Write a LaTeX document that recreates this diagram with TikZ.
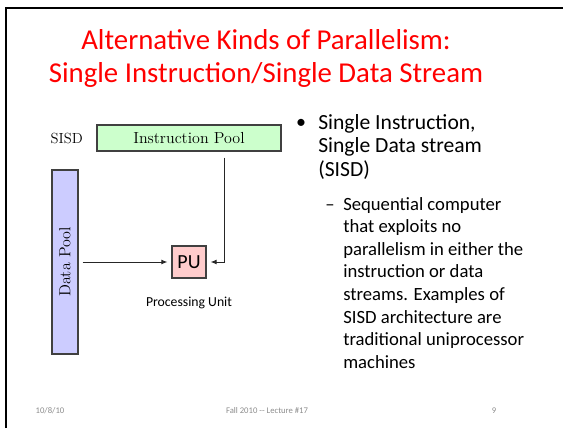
\documentclass[tikz,border=0pt]{standalone}
\usepackage{fontspec}
\newfontfamily\calibri{Carlito}
\usetikzlibrary{arrows.meta}
\definecolor{slidered}{RGB}{255,0,0}
\definecolor{poolgreen}{RGB}{204,255,204}
\definecolor{poolblue}{RGB}{204,204,255}
\definecolor{pupink}{RGB}{255,204,204}
\definecolor{edge}{RGB}{64,64,64}
\definecolor{footgray}{RGB}{140,140,140}
\tikzset{
  >={Latex[length=1.6mm,width=1.3mm]},
  pool/.style={draw=edge,fill=#1,line width=0.8pt,inner sep=0pt,
    font=\fontsize{12}{14}\selectfont},
  pool/.default=poolgreen,
  flow/.style={->,line width=0.7pt,draw=black!85},
  title/.style={anchor=base,inner sep=0pt,text=slidered,
    font=\calibri\fontsize{21.6}{26}\selectfont},
  body/.style={anchor=base west,inner sep=0pt,font=\calibri\fontsize{16.2}{19}\selectfont},
  subbody/.style={anchor=base west,inner sep=0pt,font=\calibri\fontsize{14}{17}\selectfont},
  foot/.style={anchor=base,inner sep=0pt,text=footgray,font=\calibri\fontsize{6.5}{8}\selectfont},
}

\begin{document}
\begin{tikzpicture}[x=0.75pt,y=-0.75pt]
  \useasboundingbox (0,0) rectangle (563,428);
  % slide frame
  \draw[line width=2pt] (6,428) -- (6,8) -- (563,8);
  % heading
  \node[title] (title1) at (266,50) {Alternative Kinds of Parallelism:};
  \node[title] (title2) at (266,83) {Single Instruction/Single Data Stream};
  % SISD diagram
  \node[pool=poolgreen,minimum width=138pt,minimum height=19.5pt] (instr) at (189,138) {Instruction Pool};
  \node[anchor=east,inner sep=0pt,font=\fontsize{11}{13}\selectfont] (sisd) at (83,138) {SISD};
  \node[pool=poolblue,minimum width=138pt,minimum height=19.5pt,rotate=90] (data) at (65,262) {Data Pool};
  \node[pool=pupink,font=\calibri\fontsize{15}{18}\selectfont,
    minimum width=25.5pt,minimum height=24pt] (pu) at (189,262) {PU};
  \node[inner sep=0pt,font=\calibri\fontsize{10.3}{12}\selectfont] (pulabel) at (189,303) {Processing Unit};
  \coordinate (itap) at ([xshift=26.25pt]instr.south);
  \draw[flow,shorten <=3pt,shorten >=3pt] (data.south |- pu) -- (pu.west);
  \draw[flow,shorten <=4.5pt,shorten >=3pt] (itap) |- (pu.east);
  % bullet text
  \node[inner sep=0pt,font=\calibri\fontsize{15}{18}\selectfont] (dot) at (301,124) {•};
  \foreach \ln [count=\i] in {{Single Instruction,},Single Data stream,(SISD)}
    \node[body] (main\i) at (318,{129+23.5*(\i-1)}) {\ln};
  \node[subbody] (dash) at (325,210) {–};
  \foreach \ln [count=\i] in {Sequential computer,that exploits no,parallelism in either the,
      instruction or data,streams. Examples of,SISD architecture are,
      traditional uniprocessor,machines}
    \node[subbody] (sub\i) at (343,{210+22.6*(\i-1)}) {\ln};
  % footer
  \node[foot] (date) at (50,413) {10/8/10};
  \node[foot] (course) at (267,413) {Fall 2010 -- Lecture \#17};
  \node[foot] (page) at (494,413) {9};
\end{tikzpicture}
\end{document}
